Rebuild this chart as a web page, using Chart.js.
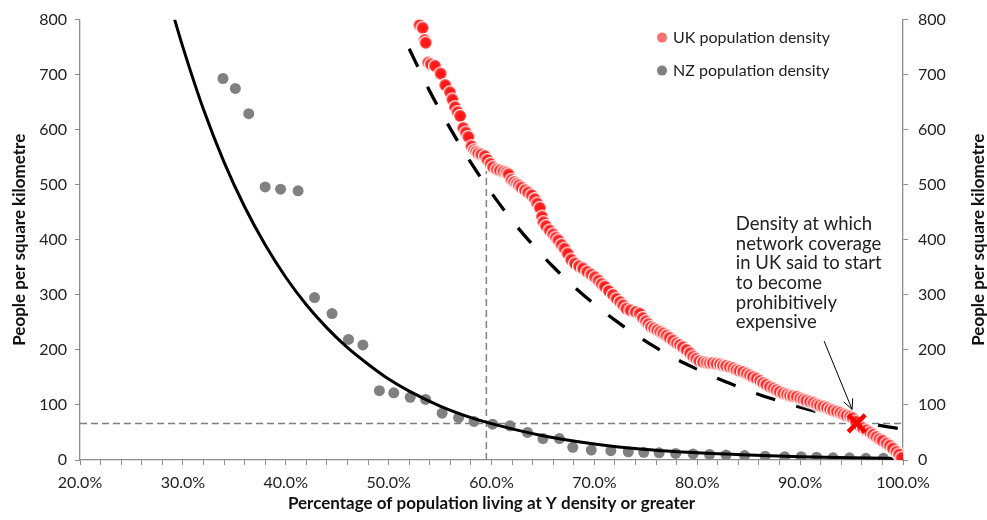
<!DOCTYPE html>
<html>
<head>
<meta charset="utf-8">
<script src="https://cdn.jsdelivr.net/npm/chart.js@4.4.0/dist/chart.umd.min.js"></script>
<style>
  html, body { margin: 0; padding: 0; background: #fff; }
  #wrap { width: 987px; height: 520px; }
</style>
</head>
<body>
<div id="wrap"><canvas id="chart" width="987" height="520"></canvas></div>
<script>
// ---- data ----
const ukPct = [53.0, 53.3, 53.5, 53.6, 53.85, 54.1, 54.5, 55.05, 55.5, 55.96, 56.2, 56.45, 56.7, 56.95, 57.25, 57.5, 57.75, 58.05, 58.3, 58.5,
  58.7, 59.0, 59.35, 59.6, 59.9, 60.15, 60.5, 60.8, 61.15, 61.45, 61.65, 61.95, 62.2, 62.45, 62.65, 62.9, 63.25, 63.55, 63.9, 64.2,
  64.45, 64.7, 64.9, 65.05, 65.3, 65.65, 66.0, 66.25, 66.5, 66.8, 67.1, 67.4, 67.75, 68.1, 68.5, 68.9, 69.3, 69.7, 70.05, 70.4,
  70.7, 71.0, 71.4, 71.8, 72.15, 72.5, 72.8, 73.1, 73.5, 74.0, 74.4, 74.7, 75.0, 75.25, 75.5, 75.8, 76.1, 76.4, 76.7, 77.0,
  77.3, 77.65, 78.0, 78.3, 78.6, 78.95, 79.3, 79.6, 79.9, 80.2, 80.55, 80.9, 81.2, 81.5, 81.85, 82.2, 82.5, 82.8, 83.15, 83.5,
  83.8, 84.1, 84.45, 84.8, 85.1, 85.4, 85.75, 86.1, 86.4, 86.7, 87.05, 87.4, 87.7, 88.0, 88.35, 88.7, 89.0, 89.3, 89.65, 90.0,
  90.3, 90.6, 90.95, 91.3, 91.6, 91.9, 92.25, 92.6, 92.9, 93.2, 93.55, 93.9, 94.2, 94.5, 94.85, 95.1, 95.4, 95.8, 96.1, 96.45,
  96.8, 97.1, 97.4, 97.7, 98.0, 98.4, 98.7, 99.0, 99.35, 99.6, 99.85];
const ukDensity = [790, 785, 763, 758, 722, 719, 716, 702, 681, 668, 655, 641, 632, 625, 603, 595, 587, 570, 563, 560,
  557, 555, 552, 545, 538, 532, 528, 526, 524, 522, 519, 509, 505, 502, 499, 495, 490, 486, 481, 474,
  466, 458, 442, 432, 425, 417, 410, 404, 399, 391, 384, 375, 364, 357, 352, 348, 342, 337, 332, 326,
  320, 315, 307, 300, 293, 287, 281, 275, 272, 269, 266, 258, 252, 247, 242, 239, 236, 233, 230, 226,
  222, 217, 212, 209, 205, 200, 194, 188, 184, 180, 178, 177, 176, 176, 175, 174, 172, 171, 169, 167,
  164, 162, 160, 157, 154, 151, 148, 144, 140, 137, 133, 130, 127, 124, 121, 119, 117, 116, 115, 112,
  110, 108, 106, 104, 101, 99, 97, 95, 92, 90, 88, 86, 83, 81, 79, 76, 70, 62, 58, 54,
  50, 46, 42, 38, 35, 30, 26, 21, 15, 10, 4];

const nzPct = [33.9, 35.1, 36.4, 38.0, 39.5, 41.2, 42.8, 44.5, 46.1, 47.5, 49.1, 50.5, 52.1, 53.6, 55.2, 56.8, 58.3, 60.1, 61.8, 63.5,
  65.0, 66.6, 67.9, 69.7, 71.6, 73.3, 74.8, 76.3, 77.9, 79.6, 81.2, 82.8, 84.6, 86.6, 88.5, 90.1, 91.6, 93.2, 94.8, 96.4,
  98.1, 99.7];
const nzDensity = [693, 675, 629, 496, 492, 489, 295, 266, 219, 209, 126, 122, 114, 110, 85, 77, 70, 65, 62, 50,
  39, 39, 23, 18, 17, 15, 14, 13, 12, 11, 10, 9, 8, 7, 6, 6, 5, 4, 4, 3,
  3, 2];

// trendlines as traced on the picture
const ukTrendPct = [52, 54, 56, 58, 60, 62, 64, 66, 68, 70, 72, 74, 76, 78, 80, 82, 84, 86, 88, 90, 92, 94, 96, 98, 100];
const ukTrendDensity = [747, 670, 602, 540, 485, 435, 391, 351, 315, 283, 254, 228, 204, 183, 165, 148, 133, 119, 107, 96, 86, 77, 69, 62, 56];
const nzTrendPct = [29.2, 30, 32, 34, 36, 38, 40, 42, 44, 46, 48, 50, 52, 55, 58, 60, 65, 70, 75, 80, 85, 90, 95, 100];
const nzTrendDensity = [800, 750, 637, 541, 460, 391, 332, 282, 240, 204, 174, 147, 125, 98, 77, 66, 44, 29, 19, 13, 9, 6, 4, 2.5];

// threshold marker and guide lines
const costlyPoint = { pct: 95.5, density: 66.5 };
const guideX = 59.5;
const guideYTop = 525;

const noteLines = ['Density at which', 'network coverage', 'in UK said to start', 'to become', 'prohibitively', 'expensive'];
const seriesNames = ['UK population density', 'NZ population density'];
const axisTitleX = 'Percentage of population living at Y density or greater';
const axisTitleY = 'People per square kilometre';

const FONT = 'Lato, "Open Sans", sans-serif';
Chart.defaults.font.family = FONT;

const pts = (xs, ys) => xs.map((v, i) => ({ x: v, y: ys[i] }));

// gradient bubble like excel markers
function makeUkDot(r) {
  const s = Math.ceil(r * 2 + 3);
  const c = document.createElement('canvas');
  c.width = s; c.height = s;
  const g = c.getContext('2d');
  const grad = g.createRadialGradient(s / 2 + 1, s / 2 + 1, 0, s / 2, s / 2, r);
  grad.addColorStop(0, '#ff0f0f');
  grad.addColorStop(0.7, '#ff2020');
  grad.addColorStop(1, '#ff6a6a');
  g.beginPath();
  g.arc(s / 2, s / 2, r, 0, Math.PI * 2);
  g.fillStyle = grad;
  g.fill();
  g.lineWidth = 1.2;
  g.strokeStyle = '#ffffff';
  g.stroke();
  return c;
}
const ukDot = makeUkDot(6.5);

const extras = {
  id: 'extras',
  afterDatasetsDraw(chart) {
    const { ctx, chartArea, scales: { x, y } } = chart;
    ctx.save();

    // arrow to the threshold
    const x1 = x.getPixelForValue(92.33), y1 = y.getPixelForValue(216);
    const x2 = x.getPixelForValue(95.05), y2 = y.getPixelForValue(92);
    ctx.strokeStyle = '#000';
    ctx.lineWidth = 1;
    ctx.beginPath();
    ctx.moveTo(x1, y1);
    ctx.lineTo(x2, y2);
    const ang = Math.atan2(y2 - y1, x2 - x1);
    ctx.moveTo(x2 - 11 * Math.cos(ang - 0.45), y2 - 11 * Math.sin(ang - 0.45));
    ctx.lineTo(x2, y2);
    ctx.lineTo(x2 - 11 * Math.cos(ang + 0.45), y2 - 11 * Math.sin(ang + 0.45));
    ctx.stroke();

    // note text
    ctx.fillStyle = '#222';
    ctx.font = '18.5px ' + FONT;
    ctx.textAlign = 'left';
    ctx.textBaseline = 'middle';
    const tx = x.getPixelForValue(83.75);
    const ty = y.getPixelForValue(429);
    noteLines.forEach((t, i) => ctx.fillText(t, tx, ty + i * 19.7));

    // legend
    const lx = chartArea.right - 241;
    const ly = chartArea.top + 18;
    const legCols = ['#ff7070', '#808080'];
    ctx.font = '16px ' + FONT;
    seriesNames.forEach((t, i) => {
      const yy = ly + i * 33;
      ctx.beginPath();
      ctx.arc(lx, yy, 5, 0, Math.PI * 2);
      ctx.fillStyle = legCols[i];
      ctx.fill();
      ctx.fillStyle = '#222';
      ctx.fillText(t, lx + 11, yy);
    });

    // right axis title, reading bottom to top like the left one
    ctx.translate(chart.width - 8, (chartArea.top + chartArea.bottom) / 2);
    ctx.rotate(-Math.PI / 2);
    ctx.font = 'bold 17px ' + FONT;
    ctx.textAlign = 'center';
    ctx.fillStyle = '#111';
    ctx.fillText(axisTitleY, 0, 0);
    ctx.restore();
  }
};

const axisGrey = '#8c8c8c';
const tickFont = { size: 16 };

new Chart(document.getElementById('chart'), {
  type: 'scatter',
  data: {
    datasets: [
      {
        label: 'threshold',
        data: [{ x: costlyPoint.pct, y: costlyPoint.density }],
        pointStyle: 'crossRot',
        pointRadius: 12,
        borderColor: '#ff0000',
        borderWidth: 4.5,
        backgroundColor: '#ff0000'
      },
      {
        label: seriesNames[0],
        data: pts(ukPct, ukDensity),
        pointStyle: ukDot,
        pointRadius: 6.5
      },
      {
        label: 'NZ trend',
        data: pts(nzTrendPct, nzTrendDensity),
        showLine: true,
        borderColor: '#000',
        borderWidth: 3,
        pointRadius: 0,
        cubicInterpolationMode: 'monotone'
      },
      {
        label: seriesNames[1],
        data: pts(nzPct, nzDensity),
        pointRadius: 5.5,
        backgroundColor: '#808080',
        borderColor: '#808080',
        borderWidth: 0
      },
      {
        label: 'UK trend',
        data: pts(ukTrendPct, ukTrendDensity),
        showLine: true,
        borderColor: '#000',
        borderWidth: 3.3,
        borderDash: [20, 22],
        pointRadius: 0,
        cubicInterpolationMode: 'monotone'
      },
      {
        label: 'h guide',
        data: [{ x: 20, y: costlyPoint.density }, { x: 100, y: costlyPoint.density }],
        showLine: true,
        borderColor: '#7f7f7f',
        borderWidth: 1.5,
        borderDash: [7, 4],
        pointRadius: 0
      },
      {
        label: 'v guide',
        data: [{ x: guideX, y: 0 }, { x: guideX, y: guideYTop }],
        showLine: true,
        borderColor: '#7f7f7f',
        borderWidth: 1.5,
        borderDash: [7, 4],
        pointRadius: 0
      }
    ]
  },
  options: {
    responsive: false,
    animation: false,
    events: [],
    layout: { padding: { top: 19, left: 0, right: 0, bottom: 0 } },
    plugins: { legend: { display: false }, tooltip: { enabled: false } },
    scales: {
      x: {
        type: 'linear', min: 20, max: 100, position: 'bottom',
        ticks: {
          stepSize: 2, autoSkip: false, maxRotation: 0, color: '#222', font: tickFont, padding: 8,
          callback: v => (v % 10 === 0 ? v.toFixed(1) + '%' : '')
        },
        grid: { drawOnChartArea: false, color: axisGrey, tickLength: 5 },
        border: { color: axisGrey, width: 1.3 },
        title: { display: true, text: axisTitleX, color: '#111', font: { size: 17, weight: 'bold' }, padding: { top: 0, bottom: 6 } },
        afterFit: s => { s.height = 60; }
      },
      y: {
        min: 0, max: 800, position: 'left',
        ticks: { stepSize: 100, color: '#222', font: tickFont, padding: 8 },
        grid: { drawOnChartArea: false, color: axisGrey, tickLength: 5 },
        border: { color: axisGrey, width: 1.3 },
        title: { display: true, text: axisTitleY, color: '#111', font: { size: 17, weight: 'bold' }, padding: { top: 9, bottom: 0 } },
        afterFit: s => { s.width = 80; }
      },
      y2: {
        min: 0, max: 800, position: 'right',
        ticks: { stepSize: 100, color: '#222', font: tickFont, padding: 10 },
        grid: { drawOnChartArea: false, color: axisGrey, tickLength: 5 },
        border: { color: axisGrey, width: 1.3 },
        afterFit: s => { s.width = 84; }
      }
    }
  },
  plugins: [extras]
});
</script>
</body>
</html>
